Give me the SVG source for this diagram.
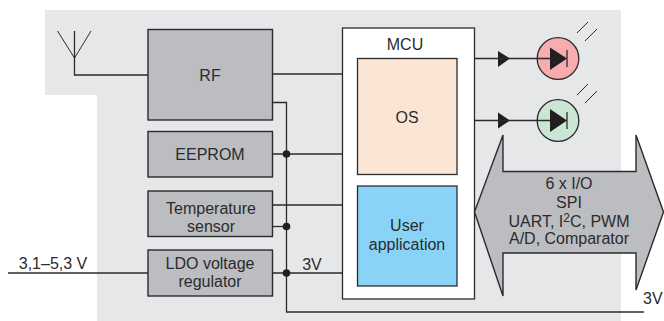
<svg xmlns="http://www.w3.org/2000/svg" width="664" height="321" viewBox="0 0 664 321">
<style>
text{font-family:"Liberation Sans",Arial,sans-serif;font-size:16px;fill:#2b2b2d;text-anchor:middle}
.b{fill:#bcbdc0;stroke:#2b2b2d;stroke-width:1.4}
.l{fill:none;stroke:#2b2b2d;stroke-width:1.3}
.t{fill:#231f20}
.thin{fill:none;stroke:#2b2b2d;stroke-width:1}
</style>
<rect width="664" height="321" fill="#fff"/>
<path id="background" d="M45 10H621V321H97V95H45Z" fill="#e6e7e9"/>
<g id="connectors" class="l">
<path d="M74.500 31V75H148"/>
<path d="M57.500 31L74.500 58L91 31M74.500 31V58" class="thin"/>
<path d="M272 74H342"/>
<path d="M272 102.500H286.500V312H644"/>
<path d="M272 154H342"/>
<path d="M272 205H342"/>
<path d="M272 226.500H286.500"/>
<path d="M8 273H148"/>
<path d="M272 273H342"/>
<circle cx="286.500" cy="154" r="3.800" class="t" stroke="none"/>
<circle cx="286.500" cy="226.500" r="3.800" class="t" stroke="none"/>
<circle cx="286.500" cy="273" r="3.800" class="t" stroke="none"/>
<path d="M498 51V67L510 58.500Z" class="t" stroke="none"/>
<path d="M498 112.500V128.500L510 120.500Z" class="t" stroke="none"/>
</g>
<g id="rf"><rect class="b" x="148" y="29.500" width="124.500" height="90.500"/><text x="210" y="81">RF</text></g>
<g id="eeprom"><rect class="b" x="148" y="131.500" width="124.500" height="45.500"/><text x="210" y="160">EEPROM</text></g>
<g id="temperature-sensor"><rect class="b" x="148" y="191" width="124.500" height="45.500"/><text x="211" y="214">Temperature</text><text x="211" y="232">sensor</text></g>
<g id="ldo"><rect class="b" x="148" y="250" width="124.500" height="46"/><text x="210" y="269">LDO voltage</text><text x="210" y="287">regulator</text></g>
<g id="input-label"><text x="53" y="269">3,1–5,3 V</text></g>
<g id="rail-label"><text x="312" y="270">3V</text></g>
<g id="output-label"><text x="643" y="304" style="text-anchor:start">3V</text></g>
<g id="mcu"><rect x="342.500" y="28" width="132" height="271" fill="#fff" stroke="#2b2b2d" stroke-width="1.300"/><text x="405" y="50">MCU</text></g>
<g id="os"><rect x="357.500" y="58.500" width="99.500" height="116" fill="#fbe6d5" stroke="#2b2b2d" stroke-width="1.300"/><text x="407" y="123">OS</text></g>
<g id="user-application"><rect x="357.500" y="186" width="99.500" height="100" fill="#89d4f6" stroke="#2b2b2d" stroke-width="1.300"/><text x="407" y="231">User</text><text x="407" y="250">application</text></g>
<g id="led-red">
<circle cx="558" cy="58.500" r="20.800" fill="#f8acaf" stroke="#2b2b2d" stroke-width="1.300"/>
<path d="M474 58.500H565" class="l"/>
<path d="M550 47.500V70L567 58.500Z" class="t"/>
<path d="M567 50V67" class="l"/>
<path d="M577 33L588 22M585 41L597 29" class="thin"/>
</g>
<g id="led-green">
<circle cx="558" cy="120.500" r="20.800" fill="#cbe6d3" stroke="#2b2b2d" stroke-width="1.300"/>
<path d="M474 120.500H565" class="l"/>
<path d="M550 109V132L567 120.500Z" class="t"/>
<path d="M567 112V129" class="l"/>
<path d="M577 95L588 84M585 103L597 91" class="thin"/>
</g>
<g id="io-bus">
<path d="M474.500 212L503 135V171.500H636V135L663.500 212L636 290V253H503V296Z" class="b"/>
<text x="569" y="189">6 x I/O</text>
<text x="569" y="208">SPI</text>
<text x="569" y="227">UART, I<tspan font-size="12" dy="-5">2</tspan><tspan dy="5">C, PWM</tspan></text>
<text x="569" y="244">A/D, Comparator</text>
</g>
</svg>
